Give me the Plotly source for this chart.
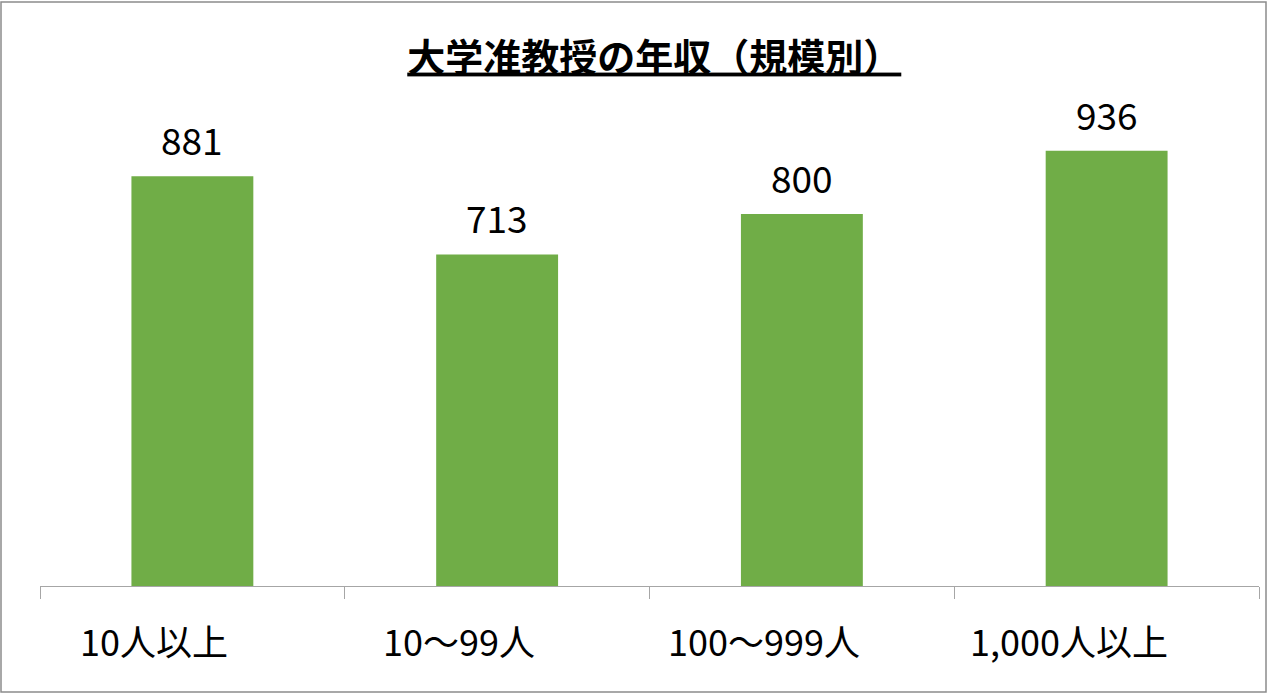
import plotly.graph_objects as go

# データ
categories = ['10人以上', '10～99人', '100～999人', '1,000人以上']
salaries = [881, 713, 800, 936]

title_text = '大学准教授の年収（規模別）'
bar_color = '#70AD47'
font_family = 'Noto Sans CJK JP'

W, H = 1268, 693
# 余白（px）
m_left, m_right, m_top, m_bottom = 40, 9, 121, 107

fig = go.Figure()

fig.add_trace(go.Bar(
    x=categories,
    y=salaries,
    marker=dict(color=bar_color, line=dict(width=0)),
    hoverinfo='x+y',
))

# 棒の上の数値ラベル
for c, v in zip(categories, salaries):
    fig.add_annotation(
        x=c, y=v, text=str(v),
        showarrow=False, yanchor='bottom', yshift=8,
        font=dict(size=37, color='black', family=font_family),
    )

# カテゴリラベル（元の図では少し左寄り）
for c in categories:
    fig.add_annotation(
        x=c, y=0, yref='paper', text=c,
        showarrow=False, xanchor='center', yanchor='middle',
        xshift=-38, yshift=-54,
        font=dict(size=36, color='black', family=font_family),
    )

fig.update_layout(
    width=W, height=H,
    title=dict(
        text='<b>' + title_text + '</b>',
        x=0.516, xanchor='center',
        y=1, yref='container', yanchor='top', pad=dict(t=44),
        font=dict(size=38, color='black', family=font_family, lineposition='under'),
    ),
    font=dict(family=font_family, color='black'),
    plot_bgcolor='white',
    paper_bgcolor='white',
    margin=dict(l=m_left, r=m_right, t=m_top, b=m_bottom),
    bargap=0.6,
    showlegend=False,
    xaxis=dict(
        showline=True, linecolor='#A6A6A6', linewidth=1,
        ticks='outside', tickson='boundaries', ticklen=12, tickcolor='#A6A6A6',
        showticklabels=False,
        showgrid=False,
    ),
    yaxis=dict(
        range=[0, 1000],
        visible=False,
        showgrid=False,
    ),
)

# 外枠（図全体）
pw = W - m_left - m_right
ph = H - m_top - m_bottom
fig.add_shape(
    type='rect', xref='paper', yref='paper',
    x0=(1 - m_left) / pw, x1=(W - 2 - m_left) / pw,
    y0=(-m_bottom + 1) / ph, y1=(H - 2 - m_bottom) / ph,
    line=dict(color='#8C8C8C', width=1.5), fillcolor='rgba(0,0,0,0)',
)

fig.write_html(
    'out.html',
    config={'displayModeBar': False},
    post_script="document.body.style.margin='0';document.body.style.overflow='hidden';",
)
